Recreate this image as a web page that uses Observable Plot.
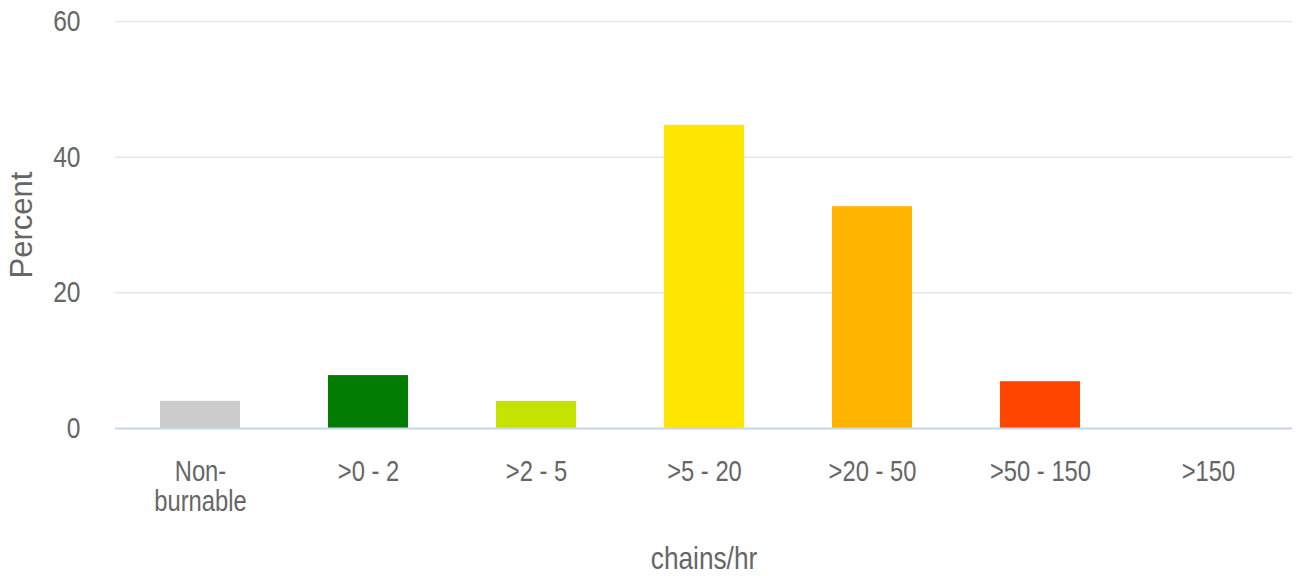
<!DOCTYPE html>
<html>
<head>
<meta charset="utf-8">
<script src="https://cdn.jsdelivr.net/npm/d3@7"></script>
<script src="https://cdn.jsdelivr.net/npm/@observablehq/plot@0.6"></script>
<style>
  body { margin: 0; background: #fff; }
</style>
</head>
<body>
<div id="chart"></div>
<script>
// Categories (rate of spread classes, chains/hr)
const categories = ["Non-burnable", ">0 - 2", ">2 - 5", ">5 - 20", ">20 - 50", ">50 - 150", ">150"];
// Tick labels as shown under each bar
const tickLabels = ["Non-\nburnable", ">0 - 2", ">2 - 5", ">5 - 20", ">20 - 50", ">50 - 150", ">150"];
// Percent values
const percent = [4.0, 7.8, 4.0, 44.7, 32.7, 6.9, 0];
// Bar colours per category
const barColors = ["#cccccc", "#037c03", "#c4e400", "#ffe600", "#ffb500", "#ff4500", "#8b0000"];
// Y tick values
const yTicks = [0, 20, 40, 60];

const data = categories.map((c, i) => ({ category: c, value: percent[i] }));
const sans = "'Liberation Sans', Arial, sans-serif";

const chart = Plot.plot({
  width: 1299,
  height: 576,
  marginTop: 21,
  marginBottom: 148,
  marginLeft: 115,
  marginRight: 7,
  style: { fontFamily: sans, fontSize: "29px", color: "#666", background: "#fff" },
  x: { domain: categories, paddingInner: 0, paddingOuter: 0, axis: null },
  y: { domain: [0, 60], axis: null },
  color: { domain: categories, range: barColors },
  marks: [
    Plot.gridY(yTicks, { stroke: "#e6e6e6", strokeOpacity: 1, strokeWidth: 1.5 }),
    Plot.barY(data, { x: "category", y: "value", fill: "category", insetLeft: 44, insetRight: 44 }),
    Plot.ruleY([0], { stroke: "#ccd6eb", strokeWidth: 2 }),
    Plot.axisY(yTicks, {
      tickSize: 0, tickPadding: 35, fill: "#666", fontSize: 30,
      label: null
    }),
    Plot.axisY({
      ticks: [], label: "Percent", labelAnchor: "center", labelOffset: 106, labelArrow: "none",
      fontSize: 31, fill: "#666"
    }),
    Plot.axisX({
      tickSize: 0, tickPadding: 31, lineHeight: 1.03, fill: "#666", fontSize: 29,
      tickFormat: d => tickLabels[categories.indexOf(d)],
      label: null
    }),
    Plot.axisX({
      ticks: [], label: "chains/hr", labelAnchor: "center", labelOffset: 140, labelArrow: "none",
      fontSize: 32, fill: "#666"
    })
  ]
});

// Condense the horizontal tick labels and the x-axis title (the reference uses a narrow face)
d3.select(chart)
  .selectAll("g[aria-label='x-axis tick label'] text, g[aria-label='y-axis tick label'] text, g[aria-label='x-axis label'] text")
  .each(function () {
    const t = this.getAttribute("transform") || "";
    this.setAttribute("transform", t + " scale(0.82,1)");
  });

document.getElementById("chart").appendChild(chart);
</script>
</body>
</html>
